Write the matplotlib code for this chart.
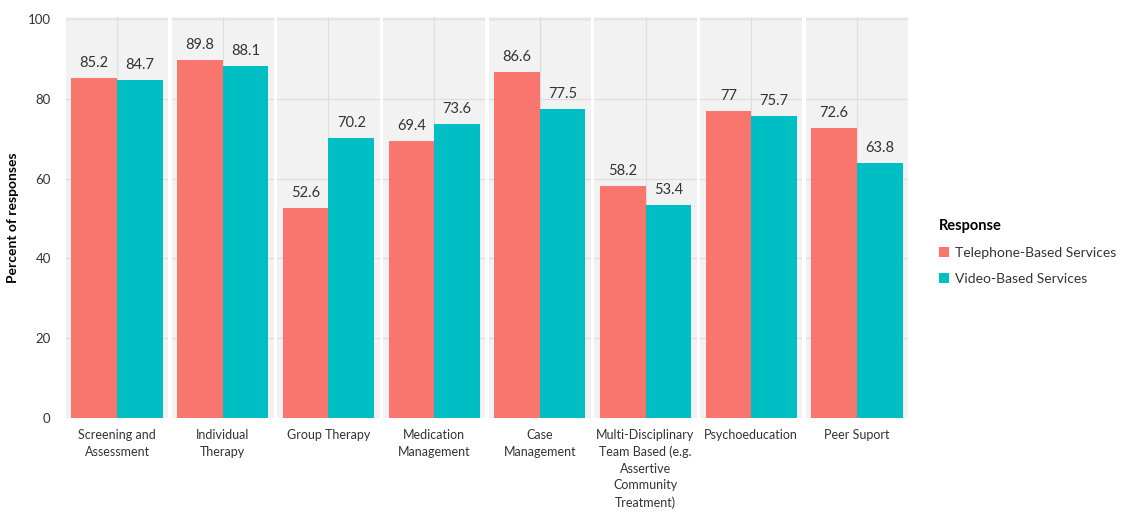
import matplotlib
matplotlib.use("Agg")
import matplotlib.pyplot as plt
from matplotlib.patches import Patch

categories = ["Screening and\nAssessment", "Individual\nTherapy", "Group Therapy",
              "Medication\nManagement", "Case\nManagement",
              "Multi-Disciplinary\nTeam Based (e.g.\nAssertive\nCommunity\nTreatment)",
              "Psychoeducation", "Peer Suport"]
telephone = [85.2, 89.8, 52.6, 69.4, 86.6, 58.2, 77, 72.6]
video = [84.7, 88.1, 70.2, 73.6, 77.5, 53.4, 75.7, 63.8]
tel_labels = ["85.2", "89.8", "52.6", "69.4", "86.6", "58.2", "77", "72.6"]
vid_labels = ["84.7", "88.1", "70.2", "73.6", "77.5", "53.4", "75.7", "63.8"]
series_names = ["Telephone-Based Services", "Video-Based Services"]
yticks = [0, 20, 40, 60, 80, 100]

RED = "#F8766D"
TEAL = "#00BFC4"
BG = "#F2F2F2"
GRID = "#DEDEDE"
TXT = "#333333"

plt.rcParams['font.family'] = ['Lato', 'DejaVu Sans']

fig = plt.figure(figsize=(11.33, 5.17), dpi=100)
left, right = 66/1133, 908/1133
bottom, top = 1 - 418/517, 1 - 17/517
gs = fig.add_gridspec(1, len(categories), left=left, right=right, bottom=bottom, top=top, wspace=0.035)

axes = []
for i, cat in enumerate(categories):
    ax = fig.add_subplot(gs[0, i], sharey=axes[0] if axes else None)
    axes.append(ax)
    ax.set_facecolor(BG)
    for s in ax.spines.values():
        s.set_visible(False)
    ax.set_axisbelow(True)
    ax.grid(True, axis='y', color=GRID, linewidth=0.9)
    ax.axvline(0.5, color=GRID, linewidth=0.9, zorder=0)
    ax.bar([0], [telephone[i]], width=1.0, color=RED, zorder=2)
    ax.bar([1], [video[i]], width=1.0, color=TEAL, zorder=2)
    ax.text(0, telephone[i] + 2.0, tel_labels[i], ha='center', va='bottom', fontsize=10.5, color=TXT)
    ax.text(1, video[i] + 2.0, vid_labels[i], ha='center', va='bottom', fontsize=10.5, color=TXT)
    ax.set_xlim(-0.62, 1.62)
    ax.set_ylim(0, 100.5)
    ax.set_xticks([0.5])
    ax.set_xticklabels([cat], fontsize=9, color=TXT, linespacing=1.45)
    ax.tick_params(axis='x', length=0, pad=8)
    ax.set_yticks(yticks)
    if i == 0:
        ax.tick_params(axis='y', length=0, labelsize=9.5, labelcolor=TXT, pad=11)
        ax.set_ylabel("Percent of responses", fontsize=10, fontweight='bold', color='black', labelpad=6)
    else:
        ax.tick_params(axis='y', length=0, labelleft=False)

handles = [Patch(facecolor=RED, edgecolor='none'), Patch(facecolor=TEAL, edgecolor='none')]
leg = fig.legend(handles, series_names, loc='upper left', bbox_to_anchor=(0.818, 0.6),
                 frameon=False, fontsize=10, title="Response", title_fontproperties={'weight': 'bold', 'size': 10.5},
                 handlelength=0.7, handleheight=0.7, handletextpad=0.4, labelspacing=1.0, alignment='left')
for t in leg.get_texts():
    t.set_color(TXT)

fig.savefig("out.png", dpi=100)
